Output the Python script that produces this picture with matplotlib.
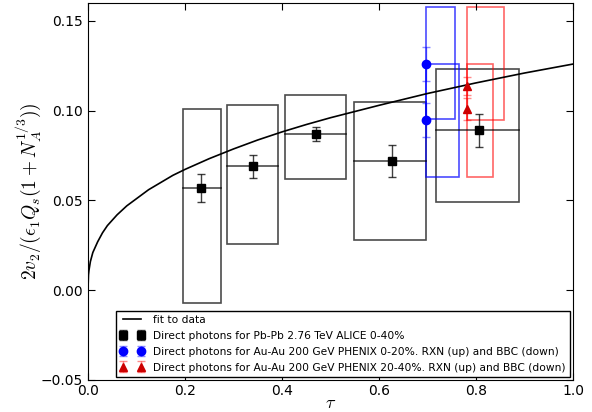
import matplotlib
matplotlib.use("Agg")
import matplotlib.pyplot as plt
from matplotlib.patches import Rectangle

plt.rcParams['mathtext.fontset'] = 'cm'
plt.rcParams['xtick.direction'] = 'in'
plt.rcParams['ytick.direction'] = 'in'

# fit curve
fit_tau = [0, 0.001, 0.002, 0.005, 0.01, 0.02, 0.03, 0.04, 0.06, 0.08, 0.1,
           0.125, 0.15, 0.175, 0.2, 0.25, 0.3, 0.35, 0.4, 0.45, 0.5,
           0.6, 0.7, 0.8, 0.9, 1.0]
fit_val = [0, 0.0085, 0.011, 0.016, 0.021, 0.027, 0.032, 0.036, 0.042, 0.047, 0.051,
           0.056, 0.060, 0.064, 0.0673, 0.0733, 0.0787, 0.0837, 0.0882, 0.0923, 0.0961,
           0.103, 0.1096, 0.1155, 0.121, 0.126]

# ALICE Pb-Pb 0-40%
alice_tau = [0.233, 0.341, 0.471, 0.627, 0.807]
alice_val = [0.057, 0.069, 0.087, 0.072, 0.089]
alice_err = [0.008, 0.0065, 0.004, 0.009, 0.009]
alice_box_lo_tau = [0.195, 0.286, 0.406, 0.549, 0.7175]
alice_box_hi_tau = [0.274, 0.391, 0.531, 0.697, 0.888]
alice_box_lo = [-0.007, 0.026, 0.062, 0.028, 0.049]
alice_box_hi = [0.101, 0.103, 0.109, 0.105, 0.123]

# PHENIX 0-20% (RXN, BBC)
phenix020_tau = [0.697, 0.697]
phenix020_val = [0.126, 0.095]
phenix020_err = [0.0095, 0.0095]
phenix020_box_hi_tau = [0.757, 0.765]
phenix020_box_lo = [0.0956, 0.063]
phenix020_box_hi = [0.158, 0.126]

# PHENIX 20-40% (RXN, BBC)
phenix2040_tau = [0.781, 0.781]
phenix2040_val = [0.114, 0.101]
phenix2040_err = [0.005, 0.006]
phenix2040_box_hi_tau = [0.857, 0.835]
phenix2040_box_lo = [0.095, 0.063]
phenix2040_box_hi = [0.158, 0.126]

fig = plt.figure(figsize=(5.92, 4.12), dpi=100)
ax = fig.add_axes([0.1486, 0.0777, 0.8194, 0.915])

# systematic boxes
for x0, x1, y0, y1, v in zip(alice_box_lo_tau, alice_box_hi_tau, alice_box_lo, alice_box_hi, alice_val):
    ax.add_patch(Rectangle((x0, y0), x1 - x0, y1 - y0, fill=False, edgecolor='black', alpha=0.7, lw=1.2))
    ax.plot([x0, x1], [v, v], color='black', alpha=0.7, lw=1.2)
for x0, x1, y0, y1 in zip(phenix020_tau, phenix020_box_hi_tau, phenix020_box_lo, phenix020_box_hi):
    ax.add_patch(Rectangle((x0, y0), x1 - x0, y1 - y0, fill=False, edgecolor='blue', alpha=0.7, lw=1.2))
for x0, x1, y0, y1 in zip(phenix2040_tau, phenix2040_box_hi_tau, phenix2040_box_lo, phenix2040_box_hi):
    ax.add_patch(Rectangle((x0, y0), x1 - x0, y1 - y0, fill=False, edgecolor='red', alpha=0.6, lw=1.2))

ax.plot(fit_tau, fit_val, color='black', lw=1.2, label='fit to data')
ax.errorbar(alice_tau, alice_val, yerr=alice_err, fmt='s', color='black', ms=6,
            ecolor=(0, 0, 0, 0.75), capsize=3, elinewidth=1,
            label='Direct photons for Pb-Pb 2.76 TeV ALICE 0-40%')
ax.errorbar(phenix020_tau, phenix020_val, yerr=phenix020_err, fmt='o', color='blue', ms=6,
            ecolor=(0, 0, 1, 0.45), capsize=3, elinewidth=1,
            label='Direct photons for Au-Au 200 GeV PHENIX 0-20%. RXN (up) and BBC (down)')
ax.errorbar(phenix2040_tau, phenix2040_val, yerr=phenix2040_err, fmt='^', color='#cc0000', ms=6,
            ecolor=(1, 0, 0, 0.45), capsize=3, elinewidth=1,
            label='Direct photons for Au-Au 200 GeV PHENIX 20-40%. RXN (up) and BBC (down)')

ax.set_xlim(0, 1.0)
ax.set_ylim(-0.05, 0.16)
ax.set_xticks([0.0, 0.2, 0.4, 0.6, 0.8, 1.0])
ax.set_yticks([-0.05, 0.0, 0.05, 0.10, 0.15])
ax.tick_params(top=True, right=True, labelsize=10, length=5)
ax.tick_params(axis='x', pad=3)
ax.set_xlabel(r'$\tau$', fontsize=13, labelpad=-3)
ax.set_ylabel(r'$2v_2/(\epsilon_1 Q_s(1+N_A^{1/3}))$', fontsize=14, labelpad=-2)

leg = ax.legend(loc='lower right', fontsize=7.7, numpoints=2, fancybox=False,
                edgecolor='black', framealpha=1, borderaxespad=0.3,
                handlelength=2.3, labelspacing=0.55)
leg.get_frame().set_linewidth(1.0)

fig.savefig('out.png', dpi=100)
